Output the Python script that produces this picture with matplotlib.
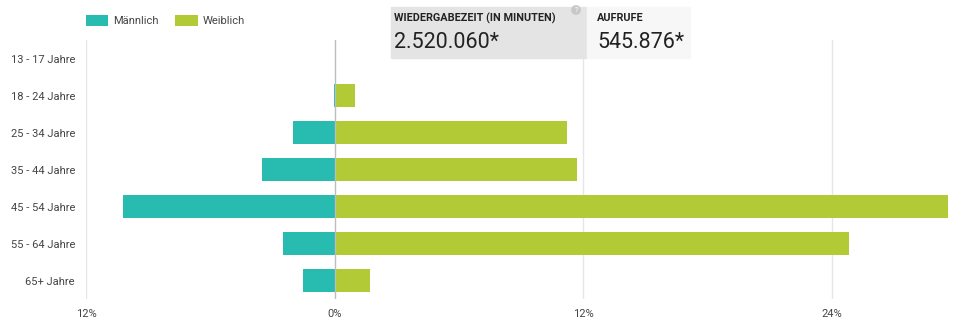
import matplotlib
matplotlib.use("Agg")
import matplotlib.pyplot as plt
from matplotlib.patches import Rectangle
from matplotlib.ticker import FuncFormatter
import numpy as np

TEAL, GREEN = "#28bbb0", "#b1ca35"
TXT, GRID = "#444444", "#e6e6e6"

ages = ["13 - 17 Jahre", "18 - 24 Jahre", "25 - 34 Jahre", "35 - 44 Jahre",
        "45 - 54 Jahre", "55 - 64 Jahre", "65+ Jahre"]
male = [0.0, 0.05, 2.0, 3.5, 10.2, 2.5, 1.55]
female = [0.0, 1.0, 11.2, 11.7, 29.6, 24.8, 1.7]
xticks = [-12, 0, 12, 24]

plt.rcParams.update({"font.family": ["Roboto", "DejaVu Sans"], "text.color": TXT})

fig = plt.figure(figsize=(9.68, 3.26), dpi=100)
ax = fig.add_axes([86 / 968, 1 - 299 / 326, 862 / 968, 259 / 326])

y = np.arange(len(ages))
ax.barh(y, [-m for m in male], height=0.6, color=TEAL, label="Männlich", zorder=2)
ax.barh(y, female, height=0.6, color=GREEN, label="Weiblich", zorder=2)

for t in xticks:
    ax.axvline(t, color="#bdbdbd" if t == 0 else GRID, lw=1, zorder=3 if t == 0 else 1)

ax.set_xlim(-12, 29.6)
ax.set_ylim(len(ages) - 0.5, -0.5)
ax.set_yticks(y, ages)
ax.set_xticks(xticks)
ax.xaxis.set_major_formatter(FuncFormatter(lambda v, _: f"{abs(v):.0f}%"))
ax.tick_params(length=0, labelsize=8, colors=TXT)
ax.tick_params(axis="y", pad=8)
ax.tick_params(axis="x", pad=7)
for s in ax.spines.values():
    s.set_visible(False)

fig.legend(*ax.get_legend_handles_labels(), loc="center left",
           bbox_to_anchor=(86 / 968, 1 - 20.5 / 326), ncol=2, frameon=False,
           fontsize=8, handlelength=2.0, handleheight=1.2, handletextpad=0.45,
           columnspacing=1.5, borderaxespad=0.0, borderpad=0.0)

# summary boxes at the top
fig.add_artist(Rectangle((391 / 968, 1 - 58 / 326), 195 / 968, 51 / 326,
                         transform=fig.transFigure, color="#e4e4e4", zorder=5))
fig.add_artist(Rectangle((587 / 968, 1 - 58 / 326), 103 / 968, 51 / 326,
                         transform=fig.transFigure, color="#f7f7f7", zorder=5))
fig.text(394 / 968, 1 - 18 / 326, "WIEDERGABEZEIT (IN MINUTEN)", fontsize=7.8,
         weight="bold", color="#222222", va="center", zorder=6)
fig.text(394 / 968, 1 - 42 / 326, "2.520.060*", fontsize=15.5,
         color="#222222", va="center", zorder=6)
fig.text(597 / 968, 1 - 18 / 326, "AUFRUFE", fontsize=7.8, weight="bold",
         color="#222222", va="center", zorder=6)
fig.text(597 / 968, 1 - 42 / 326, "545.876*", fontsize=15.5,
         color="#222222", va="center", zorder=6)
fig.text(576 / 968, 1 - 10 / 326, "?", fontsize=5, color="white", ha="center", va="center",
         zorder=7, bbox=dict(boxstyle="circle,pad=0.2", fc="#c8c8c8", ec="none"))

fig.savefig("out.png", dpi=100, facecolor="white")
